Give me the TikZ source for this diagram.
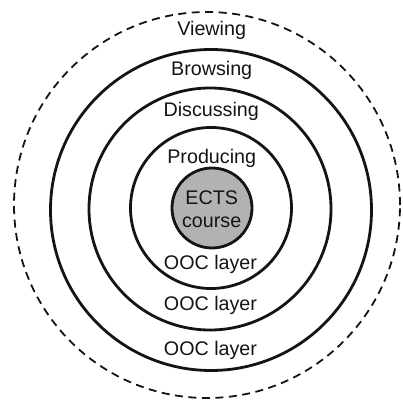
\documentclass[tikz,border=0pt]{standalone}
\usepackage{fontspec}
\setmainfont{Liberation Sans}
\definecolor{ringgray}{RGB}{178,178,178}
\definecolor{inkc}{RGB}{20,20,20}
\begin{document}
\begin{tikzpicture}[x=1pt,y=-1pt,
  ring/.style={circle, draw=inkc, line width=2.8pt, inner sep=0pt},
  dashring/.style={circle, draw=inkc, line width=1.8pt, dash pattern=on 8pt off 5.5pt, inner sep=0pt},
  core/.style={circle, draw=inkc, fill=ringgray, line width=2.8pt, inner sep=0pt},
  lbl/.style={anchor=base, inner sep=0pt, text=inkc, font=\fontsize{19.7}{23}\selectfont}]
\useasboundingbox (0,0) rectangle (402,403);
\node[dashring, minimum size=386pt] (outer) at (207,205) {};
\node[ring, minimum size=321pt] (browse) at (211,210) {};
\node[ring, minimum size=242pt] (discuss) at (210,209) {};
\node[ring, minimum size=161pt] (produce) at (211,208) {};
\node[core, minimum size=80pt] (ects) at (212,208) {};
\node[lbl] (tview) at (211.7,36) {Viewing};
\node[lbl] (tbrowse) at (211.7,76) {Browsing};
\node[lbl] (tdiscuss) at (211.2,116.7) {Discussing};
\node[lbl] (tproduce) at (211.7,164) {Producing};
\node[lbl] (tects) at (211.7,204) {ECTS};
\node[lbl] (tcourse) at (211.7,227) {course};
\node[lbl] (tooc1) at (210.5,269) {OOC layer};
\node[lbl] (tooc2) at (210.5,310) {OOC layer};
\node[lbl] (tooc3) at (210.5,355) {OOC layer};
\end{tikzpicture}
\end{document}
